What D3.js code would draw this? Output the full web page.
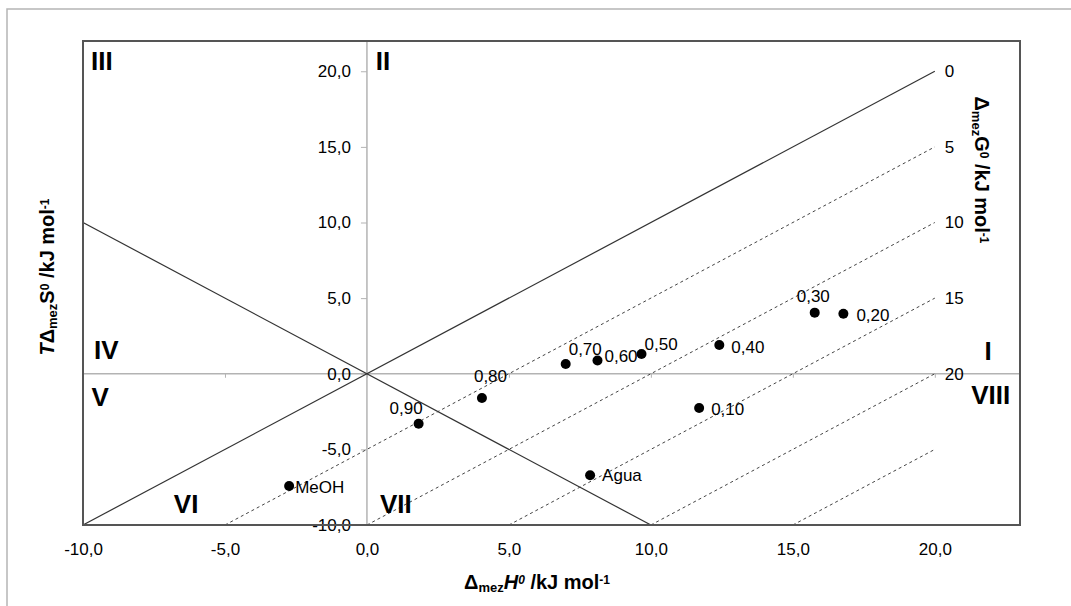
<!DOCTYPE html>
<html>
<head>
<meta charset="utf-8">
<script src="https://cdn.jsdelivr.net/npm/d3@7"></script>
<style>
  body { margin: 0; background: #fff; }
  svg text { font-family: "Liberation Sans Narrow", "Arial Narrow", "Liberation Sans", Arial, sans-serif; fill: #000; }
</style>
</head>
<body>
<div id="chart"></div>
<script>
// data: enthalpy (x) and entropy term (y) of mixing, kJ/mol
var labels = ["MeOH", "0,90", "0,80", "0,70", "0,60", "0,50", "0,40", "0,30", "0,20", "0,10", "Agua"];
var dH  = [-2.74, 1.82, 4.05, 7.0, 8.12, 9.67, 12.41, 15.77, 16.78, 11.7, 7.86];
var TdS = [-7.42, -3.3, -1.6, 0.64, 0.88, 1.3, 1.9, 4.04, 3.97, -2.27, -6.71];

// Gibbs energy isolines (dG = dH - TdS)
var gLevels = [0, 5, 10, 15, 20, 25];
var gLabels = ["0", "5", "10", "15", "20", ""];

var xTicks = [-10, -5, 0, 5, 10, 15, 20];
var yTicks = [-10, -5, 0, 5, 10, 15, 20];

var regions = ["III", "II", "IV", "V", "VI", "VII", "I", "VIII"];
var regionPos = [[-9.72, 20.1], [0.31, 20.1], [-9.61, 0.95], [-9.7, -2.13],
                 [-6.8, -9.2], [0.46, -9.2], [21.75, 0.9], [21.28, -2.0]];

// label offsets (px) relative to each point
var labelOff = [[6, 7], [-29, -10], [-8, -16], [3, -9], [7, 2], [3, -4],
                [12, 8], [-18, -11], [13, 7], [12, 7], [12, 6]];

var width = 1071, height = 606;

var svg = d3.select("#chart")
  .append("svg")
    .attr("width", width)
    .attr("height", height);

// outer border
svg.append("rect")
  .attr("x", 7).attr("y", 9)
  .attr("width", 1100).attr("height", 700)
  .attr("fill", "none")
  .attr("stroke", "#b5b5b5")
  .attr("stroke-width", 1.5);

var x = d3.scaleLinear().domain([-10, 23]).range([83, 1020]);
var y = d3.scaleLinear().domain([-10, 22]).range([525, 41]);

var fmt = function(d) { return d3.format(".1f")(d).replace(".", ",").replace("\u2212", "-"); };

// zero lines
svg.append("line")
  .attr("x1", x(-10)).attr("x2", x(23))
  .attr("y1", y(0)).attr("y2", y(0))
  .attr("stroke", "#b3b3b3").attr("stroke-width", 1.5);
svg.append("line")
  .attr("x1", x(0)).attr("x2", x(0))
  .attr("y1", y(-10)).attr("y2", y(22))
  .attr("stroke", "#b3b3b3").attr("stroke-width", 1.5);

// y axis on x = 0
var yAxis = svg.append("g")
  .attr("transform", "translate(" + x(0) + ",0)")
  .call(d3.axisLeft(y).tickValues(yTicks).tickFormat(fmt).tickSize(6).tickPadding(10));
yAxis.select(".domain").remove();
yAxis.selectAll("line").attr("stroke", "#b3b3b3");
yAxis.selectAll("text").style("font-size", "17px");

// small ticks on y = 0
var xTickAxis = svg.append("g")
  .attr("transform", "translate(0," + y(0) + ")")
  .call(d3.axisBottom(x).tickValues(xTicks).tickSize(4).tickFormat(""));
xTickAxis.select(".domain").remove();
xTickAxis.selectAll("line").attr("stroke", "#b3b3b3");

// x labels under the frame
var xAxis = svg.append("g")
  .attr("transform", "translate(0," + y(-10) + ")")
  .call(d3.axisBottom(x).tickValues(xTicks).tickFormat(fmt).tickSize(0).tickPadding(18));
xAxis.select(".domain").remove();
xAxis.selectAll("text").style("font-size", "17px");

// dG = 0 line and its mirror
svg.append("line")
  .attr("x1", x(-10)).attr("y1", y(-10))
  .attr("x2", x(20)).attr("y2", y(20))
  .attr("stroke", "#333").attr("stroke-width", 1.2);
svg.append("line")
  .attr("x1", x(-10)).attr("y1", y(10))
  .attr("x2", x(10)).attr("y2", y(-10))
  .attr("stroke", "#333").attr("stroke-width", 1.2);

// dashed isolines
svg.selectAll(".iso")
  .data(gLevels.slice(1))
  .enter()
  .append("line")
    .attr("x1", function(g) { return x(g - 10); })
    .attr("y1", y(-10))
    .attr("x2", x(20))
    .attr("y2", function(g) { return y(20 - g); })
    .attr("stroke", "#444")
    .attr("stroke-width", 1)
    .attr("stroke-dasharray", "3,3");

svg.selectAll(".isoLabel")
  .data(gLevels)
  .enter()
  .append("text")
    .attr("x", x(20) + 10)
    .attr("y", function(g) { return y(20 - g); })
    .attr("dy", ".35em")
    .style("font-size", "17px")
    .text(function(g, i) { return gLabels[i]; });

// frame
svg.append("rect")
  .attr("x", x(-10)).attr("y", y(22))
  .attr("width", x(23) - x(-10))
  .attr("height", y(-10) - y(22))
  .attr("fill", "none")
  .attr("stroke", "#555")
  .attr("stroke-width", 2);

// region numerals
svg.selectAll(".region")
  .data(regions)
  .enter()
  .append("text")
    .attr("x", function(d, i) { return x(regionPos[i][0]); })
    .attr("y", function(d, i) { return y(regionPos[i][1]); })
    .style("font-size", "26px")
    .style("font-weight", "bold")
    .text(function(d) { return d; });

// points
svg.selectAll(".pt")
  .data(labels)
  .enter()
  .append("circle")
    .attr("cx", function(d, i) { return x(dH[i]); })
    .attr("cy", function(d, i) { return y(TdS[i]); })
    .attr("r", 5)
    .attr("fill", "#000");

svg.selectAll(".ptLabel")
  .data(labels)
  .enter()
  .append("text")
    .attr("x", function(d, i) { return x(dH[i]) + labelOff[i][0]; })
    .attr("y", function(d, i) { return y(TdS[i]) + labelOff[i][1]; })
    .style("font-size", "17px")
    .text(function(d) { return d; });

// axis titles
function title(sel, sym, italic) {
  if (sym.pre) sel.append("tspan").style("font-style", "italic").text(sym.pre);
  sel.append("tspan").text("\u0394");
  sel.append("tspan").attr("baseline-shift", "-25%").style("font-size", "13px").text("mez");
  sel.append("tspan").style("font-style", italic ? "italic" : "normal").text(sym.main);
  sel.append("tspan").attr("baseline-shift", "40%").style("font-size", "12px")
    .style("font-style", italic ? "italic" : "normal").text("0");
  sel.append("tspan").text(" /kJ mol");
  sel.append("tspan").attr("baseline-shift", "40%").style("font-size", "12px").text("-1");
}

var xt = svg.append("text")
  .attr("x", 537).attr("y", 589)
  .attr("text-anchor", "middle")
  .style("font-size", "20px").style("font-weight", "bold");
title(xt, {main: "H"}, true);

var yt = svg.append("text")
  .attr("transform", "translate(54,277)rotate(-90)")
  .attr("text-anchor", "middle")
  .style("font-size", "20px").style("font-weight", "bold");
title(yt, {pre: "T", main: "S"}, false);

var gt = svg.append("text")
  .attr("transform", "translate(975,170)rotate(90)")
  .attr("text-anchor", "middle")
  .style("font-size", "20px").style("font-weight", "bold");
title(gt, {main: "G"}, false);
</script>
</body>
</html>
